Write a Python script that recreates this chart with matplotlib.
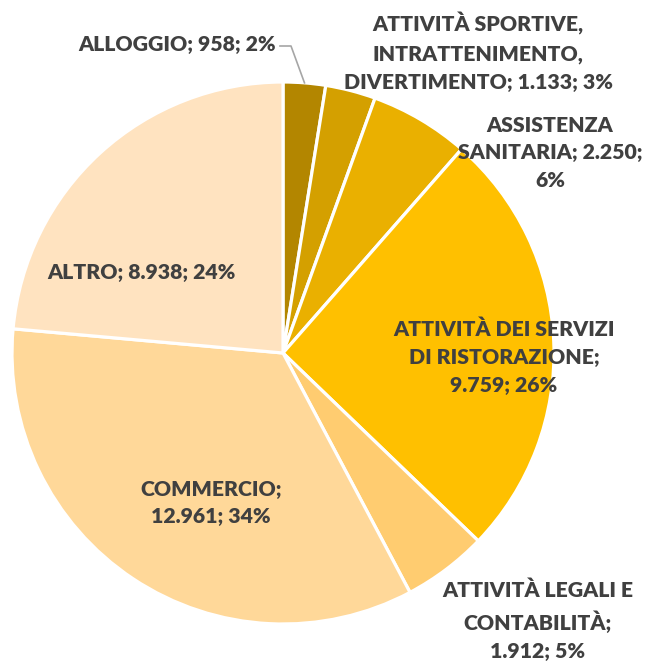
import matplotlib
matplotlib.use("Agg")
import matplotlib.pyplot as plt
import numpy as np

labels = ["ALLOGGIO", "ATTIVITÀ SPORTIVE,\nINTRATTENIMENTO,\nDIVERTIMENTO",
          "ASSISTENZA\nSANITARIA", "ATTIVITÀ DEI SERVIZI\nDI RISTORAZIONE",
          "ATTIVITÀ LEGALI E\nCONTABILITÀ", "COMMERCIO", "ALTRO"]
values = [958, 1133, 2250, 9759, 1912, 12961, 8938]
colors = ["#B38600", "#D4A000", "#EAB000", "#FFC000", "#FFCC70", "#FFD899", "#FFE3C0"]

# label texts as shown on the chart
label_texts = [
    "ALLOGGIO; 958; 2%",
    "ATTIVITÀ SPORTIVE,\nINTRATTENIMENTO,\nDIVERTIMENTO; 1.133; 3%",
    "ASSISTENZA\nSANITARIA; 2.250;\n6%",
    "ATTIVITÀ DEI SERVIZI\nDI RISTORAZIONE;\n9.759; 26%",
    "ATTIVITÀ LEGALI E\nCONTABILITÀ;\n1.912; 5%",
    "COMMERCIO;\n12.961; 34%",
    "ALTRO; 8.938; 24%",
]
# label centres in pixels (x, y from top)
label_pos = [(177, 45), (478, 52), (550, 153), (504, 357), (538, 621), (211, 503), (141, 272)]

W, H = 646, 661
fig = plt.figure(figsize=(W / 100, H / 100), dpi=100)
ax = fig.add_axes([0, 0, 1, 1])

cx, cy, r = 283, H - 353, 271
wedges, _ = ax.pie(values, colors=colors, startangle=90, counterclock=False,
                   center=(cx, cy), radius=r, frame=True,
                   wedgeprops=dict(edgecolor="white", linewidth=2.3))
ax.set_xlim(0, W)
ax.set_ylim(0, H)
ax.set_aspect("equal")
ax.axis("off")

font = dict(family=["Lato", "DejaVu Sans"], fontsize=15.3, fontweight="heavy", color="#404040")
for txt, (px, py) in zip(label_texts, label_pos):
    ax.text(px, H - py, txt, ha="center", va="center", linespacing=1.55, **font)

# leader line for ALLOGGIO
w = wedges[0]
mid = np.deg2rad((w.theta1 + w.theta2) / 2)
ex, ey = cx + r * np.cos(mid), cy + r * np.sin(mid)
ax.plot([280, 291, ex], [H - 46, H - 46, ey], color="#A6A6A6", lw=1.2)

fig.savefig("out.png", dpi=100)
